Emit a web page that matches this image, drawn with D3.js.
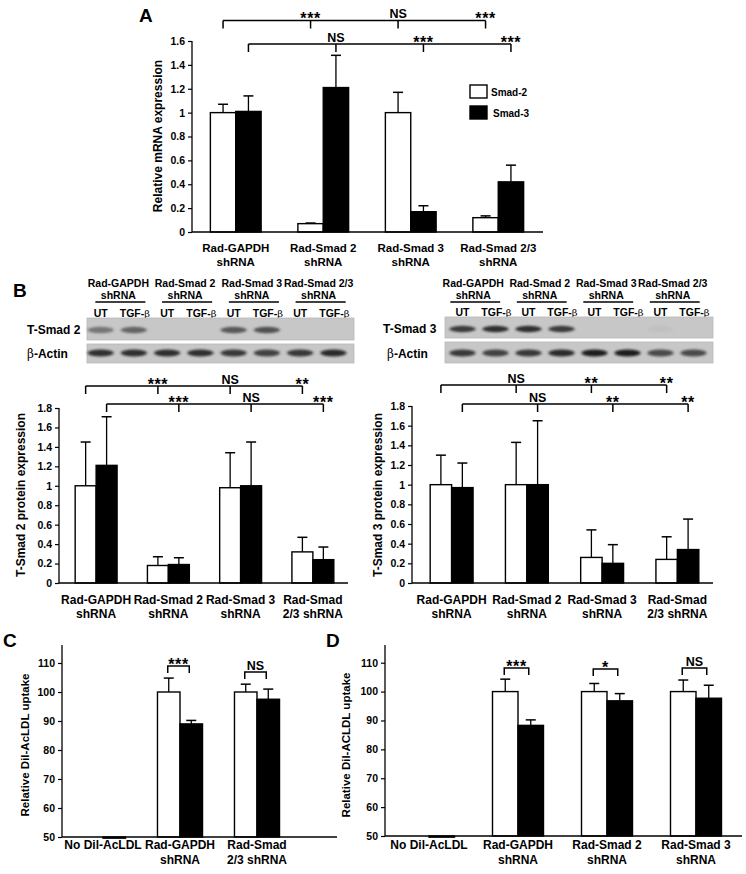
<!DOCTYPE html>
<html><head><meta charset="utf-8">
<script src="https://cdn.jsdelivr.net/npm/d3@7"></script>
<style>
body{margin:0;background:#fff}
svg{display:block;font-family:"Liberation Sans",Arial,Helvetica,sans-serif;font-weight:bold}
</style></head><body>
<svg id="fig" width="746" height="874"></svg>
<script>
// ---------------- DATA ----------------
// Panel A: relative mRNA expression
const aGroups = ["Rad-GAPDH|shRNA","Rad-Smad 2|shRNA","Rad-Smad 3|shRNA","Rad-Smad 2/3|shRNA"];
const aSeries = ["Smad-2","Smad-3"];
const aSmad2 = [1.00, 0.07, 1.00, 0.12];
const aSmad2Err = [0.07, 0.005, 0.17, 0.015];
const aSmad3 = [1.01, 1.21, 0.17, 0.42];
const aSmad3Err = [0.13, 0.27, 0.05, 0.14];
const aTicks = [0, 0.2, 0.4, 0.6, 0.8, 1, 1.2, 1.4, 1.6];
const aSigSmad2 = ["***", "NS", "***"];
const aSigSmad3 = ["NS", "***", "***"];

// Panel B: western blots
const blotGroups = ["Rad-GAPDH|shRNA","Rad-Smad 2|shRNA","Rad-Smad 3|shRNA","Rad-Smad 2/3|shRNA"];
const blotTreatments = ["UT", "TGF-β"];
const tSmad2Bands = [0.45, 0.55, 0, 0, 0.62, 0.66, 0, 0];
const actinLeftBands = [0.85, 0.85, 0.85, 0.85, 0.8, 0.75, 0.8, 0.88];
const tSmad3Bands = [0.78, 0.85, 0.85, 0.78, 0, 0, 0.03, 0];
const actinRightBands = [0.8, 0.75, 0.8, 0.88, 0.95, 0.95, 0.7, 0.7];

// Panel B: quantification
const bGroups = ["Rad-GAPDH|shRNA","Rad-Smad 2|shRNA","Rad-Smad 3|shRNA","Rad-Smad|2/3 shRNA"];
const bTicks = [0, 0.2, 0.4, 0.6, 0.8, 1, 1.2, 1.4, 1.6, 1.8];
const b2UT = [1.00, 0.18, 0.98, 0.32];
const b2UTErr = [0.45, 0.09, 0.36, 0.15];
const b2TGF = [1.21, 0.19, 1.00, 0.24];
const b2TGFErr = [0.50, 0.07, 0.45, 0.13];
const b2SigUT = ["***", "NS", "**"];
const b2SigTGF = ["***", "NS", "***"];
const b3UT = [1.00, 1.00, 0.26, 0.24];
const b3UTErr = [0.30, 0.43, 0.28, 0.23];
const b3TGF = [0.97, 1.00, 0.20, 0.34];
const b3TGFErr = [0.25, 0.65, 0.19, 0.31];
const b3SigUT = ["NS", "**", "**"];
const b3SigTGF = ["NS", "**", "**"];

// Panel C / D: DiI-AcLDL uptake
const udTicks = [50, 60, 70, 80, 90, 100, 110];
const cGroups = ["No Dil-AcLDL","Rad-GAPDH|shRNA","Rad-Smad|2/3 shRNA"];
const cUT = [50, 100, 100];
const cUTErr = [0, 4.8, 2.7];
const cTGF = [49.6, 89.0, 97.5];
const cTGFErr = [0, 1.2, 3.5];
const cSig = [null, "***", "NS"];
const dGroups = ["No Dil-AcLDL","Rad-GAPDH|shRNA","Rad-Smad 2|shRNA","Rad-Smad 3|shRNA"];
const dUT = [50, 100, 100, 100];
const dUTErr = [0, 4.3, 2.8, 4.0];
const dTGF = [49.6, 88.3, 96.8, 97.7];
const dTGFErr = [0, 1.9, 2.5, 4.5];
const dSig = [null, "***", "*", "NS"];

// ---------------- DRAWING ----------------
const svg = d3.select("#fig");

function addLines(sel, label, x, y0, lh, size, anchor) {
  label.split("|").forEach((ln, i) => {
    sel.append("text").attr("x", x).attr("y", y0 + i * lh)
      .attr("text-anchor", anchor || "middle").attr("font-size", size).text(ln);
  });
}

function sigText(g, x, lineY, label) {
  const star = label.indexOf("*") >= 0;
  g.append("text").attr("x", x).attr("y", star ? lineY + 3.5 : lineY - 2.5)
    .attr("text-anchor", "middle").attr("font-size", star ? 16 : 12.5)
    .attr("letter-spacing", star ? 0.6 : 0).text(label);
}

function barPanel(o) {
  const g = svg.append("g");
  const n = o.groups.length;
  const x = d3.scaleBand().domain(d3.range(n)).range(o.xr).paddingInner(o.pad).paddingOuter(o.pad / 2);
  const xs = d3.scaleBand().domain([0, 1]).range([0, x.bandwidth()]);
  const y = d3.scaleLinear().domain(o.yd).range(o.yr);
  const base = o.yd[0];
  const series = [[o.v0, o.e0], [o.v1, o.e1]];
  const cx = (i, s) => x(i) + xs(s) + xs.bandwidth() / 2;

  // error bars (drawn behind bars)
  series.forEach(([vals, errs], s) => {
    vals.forEach((v, i) => {
      if (!errs[i]) return;
      const c = cx(i, s);
      g.append("line").attr("x1", c).attr("x2", c).attr("y1", y(v)).attr("y2", y(v + errs[i]))
        .attr("stroke", "#000").attr("stroke-width", 1.3);
      g.append("line").attr("x1", c - o.cap).attr("x2", c + o.cap).attr("y1", y(v + errs[i])).attr("y2", y(v + errs[i]))
        .attr("stroke", "#000").attr("stroke-width", 1.5);
    });
  });
  // bars
  series.forEach(([vals], s) => {
    vals.forEach((v, i) => {
      const h = Math.abs(y(v) - y(base));
      if (h < 0.01) return;
      g.append("rect").attr("x", x(i) + xs(s)).attr("width", xs.bandwidth())
        .attr("y", Math.min(y(v), y(base))).attr("height", h)
        .attr("fill", s ? "#000" : "#fff").attr("stroke", "#000").attr("stroke-width", 1.4);
    });
  });
  // y axis
  const ax = g.append("g").attr("transform", `translate(${o.axX},0)`)
    .call(d3.axisLeft(y).tickValues(o.ticks).tickSize(4).tickSizeOuter(0).tickPadding(3).tickFormat(d => String(d)));
  ax.select(".domain").remove();
  ax.selectAll(".tick line").attr("stroke", "#000").attr("stroke-width", 1.2);
  ax.selectAll(".tick text").attr("font-size", 10.5).attr("font-weight", "bold")
    .attr("font-family", '"Liberation Sans",Arial,sans-serif').attr("fill", "#000");
  g.append("line").attr("x1", o.axX).attr("x2", o.axX).attr("y1", o.axTop).attr("y2", y(base))
    .attr("stroke", "#000").attr("stroke-width", 1.3);
  // x axis line
  g.append("line").attr("x1", o.axX).attr("x2", o.axEnd).attr("y1", y(base)).attr("y2", y(base))
    .attr("stroke", "#000").attr("stroke-width", 1.3);
  // x labels
  o.groups.forEach((lab, i) => addLines(g, lab, x(i) + x.bandwidth() / 2, o.labY, o.labLH, o.labSize));
  // y label
  g.append("text").attr("transform", `translate(${o.ylX},${o.ylY}) rotate(-90)`)
    .attr("text-anchor", "middle").attr("font-size", o.ylSize || 12).text(o.ylabel);

  // multi-comparison brackets
  (o.brackets || []).forEach(b => {
    const xsPos = d3.range(n).map(i => cx(i, b.s));
    g.append("line").attr("x1", xsPos[0]).attr("x2", xsPos[n - 1]).attr("y1", b.y).attr("y2", b.y)
      .attr("stroke", "#000").attr("stroke-width", 1.5);
    xsPos.forEach(xp => g.append("line").attr("x1", xp).attr("x2", xp).attr("y1", b.y).attr("y2", b.y + 8)
      .attr("stroke", "#000").attr("stroke-width", 1.5));
    b.labels.forEach((l, k) => sigText(g, xsPos[k + 1], b.y, l));
  });
  // pair brackets
  if (o.pairSig) {
    o.pairSig.forEach((l, i) => {
      if (!l) return;
      const x0 = cx(i, 0) - 1, x1 = cx(i, 1) - 2, yy = o.pairY[i];
      g.append("path").attr("d", `M${x0},${yy + 7}V${yy}H${x1}V${yy + 7}`)
        .attr("fill", "none").attr("stroke", "#000").attr("stroke-width", 1.5);
      sigText(g, (x0 + x1) / 2, yy, l);
    });
  }
  return { g, x, xs, y };
}

function letter(t, x, y) {
  svg.append("text").attr("x", x).attr("y", y).attr("font-size", 19).text(t);
}

// ---- Panel A ----
letter("A", 139, 22);
barPanel({
  groups: aGroups, v0: aSmad2, e0: aSmad2Err, v1: aSmad3, e1: aSmad3Err,
  xr: [192, 542], pad: 0.42, yd: [0, 1.6], yr: [232, 41], ticks: aTicks,
  axX: 192, axTop: 41, axEnd: 543, cap: 5,
  labY: 252, labLH: 14, labSize: 11.5,
  ylabel: "Relative mRNA expression", ylX: 162, ylY: 136,
  brackets: [{ s: 0, y: 20.5, labels: aSigSmad2 }, { s: 1, y: 44, labels: aSigSmad3 }]
});
// legend A
const leg = svg.append("g");
aSeries.forEach((s, i) => {
  leg.append("rect").attr("x", 470).attr("y", 85 + i * 21).attr("width", 17).attr("height", 13)
    .attr("fill", i ? "#000" : "#fff").attr("stroke", "#000").attr("stroke-width", 1.4);
  leg.append("text").attr("x", 491 + i * 2).attr("y", 95.5 + i * 21).attr("font-size", 10).text(s);
});

// ---- Panel B blots ----
letter("B", 13, 297);
function blot(o) {
  const g = svg.append("g");
  const lanes = d3.scaleBand().domain(d3.range(8)).range(o.laneR);
  const grp = d3.scaleBand().domain(d3.range(4)).range(o.grpR).paddingInner(0.25).paddingOuter(0.125);
  const lc = i => lanes(i) + lanes.bandwidth() / 2;
  o.groups.forEach((lab, i) => {
    const c = grp(i) + grp.bandwidth() / 2;
    addLines(g, lab, c - 2, 287, 12, 10.5);
    g.append("line").attr("x1", grp(i)).attr("x2", grp(i) + grp.bandwidth()).attr("y1", 302).attr("y2", 302)
      .attr("stroke", "#000").attr("stroke-width", 1.3);
  });
  d3.range(8).forEach(i => {
    const t = g.append("text").attr("x", lc(i) + (i % 2 ? 1 : 0)).attr("y", o.trtY).attr("text-anchor", "middle").attr("font-size", 10.5);
    const lab = o.treat[i % 2];
    if (lab.indexOf("β") >= 0) {
      t.append("tspan").text(lab.replace("β", ""));
      t.append("tspan").attr("font-weight", "normal").attr("font-family", '"DejaVu Serif",serif').attr("font-size", 10).text("β");
    } else t.text(lab);
  });
  o.rows.forEach(r => {
    g.append("rect").attr("x", o.box[0]).attr("width", o.box[1] - o.box[0]).attr("y", r.y0).attr("height", r.y1 - r.y0)
      .attr("fill", "#c7c7c7").attr("stroke", "#b8b8b8").attr("stroke-width", 0.8);
    r.bands.forEach((a, i) => {
      if (a <= 0) return;
      g.append("ellipse").attr("cx", lc(i)).attr("cy", r.cy).attr("rx", 13).attr("ry", r.ry)
        .attr("fill", "#151515").attr("opacity", a).attr("filter", "url(#blur)");
    });
    const t = g.append("text").attr("x", r.lx).attr("y", r.ly).attr("font-size", 12);
    if (r.label.indexOf("β") === 0) {
      t.append("tspan").attr("font-weight", "normal").attr("font-family", '"DejaVu Serif",serif').attr("font-size", 12).text("β");
      t.append("tspan").text(r.label.slice(1));
    } else t.text(r.label);
  });
}
const defs = svg.append("defs");
defs.append("filter").attr("id", "blur").attr("x", "-30%").attr("y", "-80%").attr("width", "160%").attr("height", "260%")
  .append("feGaussianBlur").attr("stdDeviation", "1.6 1.1");

blot({
  groups: blotGroups, treat: blotTreatments, laneR: [84, 350], grpR: [87, 354], trtY: 316.5,
  box: [87, 354],
  rows: [
    { y0: 318, y1: 340, cy: 330, ry: 3.2, bands: tSmad2Bands, label: "T-Smad 2", lx: 27, ly: 334 },
    { y0: 344, y1: 363, cy: 353, ry: 3.4, bands: actinLeftBands, label: "β-Actin", lx: 27, ly: 357.5 }
  ]
});
blot({
  groups: blotGroups, treat: blotTreatments, laneR: [446, 710], grpR: [442, 708], trtY: 315.5,
  box: [445, 713],
  rows: [
    { y0: 317, y1: 338, cy: 329, ry: 3.3, bands: tSmad3Bands, label: "T-Smad 3", lx: 383, ly: 333 },
    { y0: 342, y1: 363, cy: 353, ry: 3.6, bands: actinRightBands, label: "β-Actin", lx: 387, ly: 358 }
  ]
});

// ---- Panel B charts ----
barPanel({
  groups: bGroups, v0: b2UT, e0: b2UTErr, v1: b2TGF, e1: b2TGFErr,
  xr: [60, 349], pad: 0.42, yd: [0, 1.8], yr: [583, 408], ticks: bTicks,
  axX: 59, axTop: 408, axEnd: 348, cap: 5,
  labY: 604, labLH: 13.5, labSize: 12,
  ylabel: "T-Smad 2 protein expression", ylX: 25, ylY: 495,
  brackets: [{ s: 0, y: 386, labels: b2SigUT }, { s: 1, y: 404, labels: b2SigTGF }]
});
barPanel({
  groups: bGroups, v0: b3UT, e0: b3UTErr, v1: b3TGF, e1: b3TGFErr,
  xr: [414, 715], pad: 0.43, yd: [0, 1.8], yr: [583, 406], ticks: bTicks,
  axX: 412, axTop: 406, axEnd: 713, cap: 5,
  labY: 604, labLH: 13.5, labSize: 12,
  ylabel: "T-Smad 3 protein expression", ylX: 382, ylY: 495,
  brackets: [{ s: 0, y: 385, labels: b3SigUT }, { s: 1, y: 404, labels: b3SigTGF }]
});

// ---- Panel C ----
letter("C", 3, 647);
barPanel({
  groups: cGroups, v0: cUT, e0: cUTErr, v1: cTGF, e1: cTGFErr,
  xr: [64.5, 295.5], pad: 0.415, yd: [50, 110], yr: [837, 663], ticks: udTicks,
  axX: 62, axTop: 645, axEnd: 337, cap: 5,
  labY: 849, labLH: 15, labSize: 12,
  ylabel: "Relative Dil-AcLDL uptake", ylX: 29, ylY: 745, ylSize: 11.5,
  pairSig: cSig, pairY: [0, 666, 672]
});

// ---- Panel D ----
letter("D", 326, 647);
barPanel({
  groups: dGroups, v0: dUT, e0: dUTErr, v1: dTGF, e1: dTGFErr,
  xr: [384.5, 740.5], pad: 0.427, yd: [50, 110], yr: [836, 662.7], ticks: udTicks,
  axX: 385, axTop: 645, axEnd: 742, cap: 5,
  labY: 849, labLH: 15, labSize: 12,
  ylabel: "Relative Dil-ACLDL uptake", ylX: 350, ylY: 745, ylSize: 11.5,
  pairSig: dSig, pairY: [0, 668, 669, 668]
});
</script>
</body></html>
